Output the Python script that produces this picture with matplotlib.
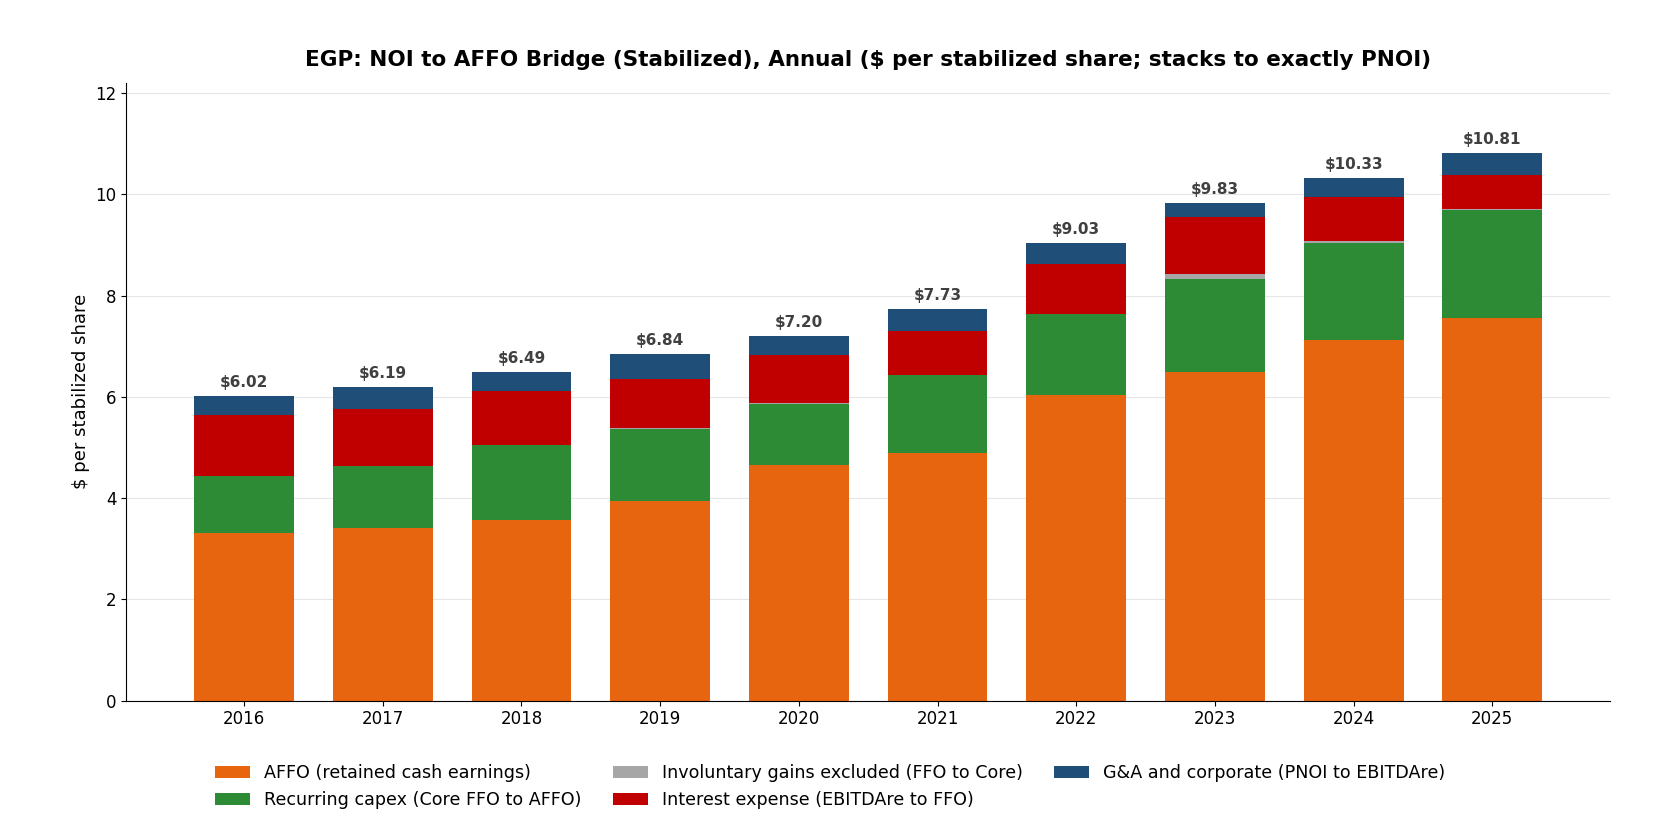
import matplotlib.pyplot as plt
import numpy as np

years = ["2016", "2017", "2018", "2019", "2020", "2021", "2022", "2023", "2024", "2025"]

affo = [3.30, 3.40, 3.56, 3.94, 4.66, 4.89, 6.04, 6.50, 7.12, 7.55]
capex = [1.13, 1.23, 1.49, 1.43, 1.20, 1.55, 1.59, 1.82, 1.92, 2.14]
gains = [0.00, 0.00, 0.00, 0.01, 0.01, 0.00, 0.00, 0.10, 0.04, 0.02]
interest = [1.21, 1.13, 1.07, 0.98, 0.95, 0.87, 0.99, 1.14, 0.86, 0.68]
gna = [0.38, 0.43, 0.37, 0.48, 0.38, 0.42, 0.41, 0.27, 0.39, 0.42]

labels = [
    "AFFO (retained cash earnings)",
    "Recurring capex (Core FFO to AFFO)",
    "Involuntary gains excluded (FFO to Core)",
    "Interest expense (EBITDAre to FFO)",
    "G&A and corporate (PNOI to EBITDAre)",
]
colors = ["#E8650F", "#2E8B35", "#A6A6A6", "#C00000", "#1F4E79"]

fig = plt.figure(figsize=(16.6, 8.3), dpi=100)
ax = fig.add_axes([0.076, 0.156, 0.894, 0.744])

x = np.arange(len(years))
bottom = np.zeros(len(years))
for vals, lab, col in zip([affo, capex, gains, interest, gna], labels, colors):
    ax.bar(x, vals, 0.72, bottom=bottom, color=col, label=lab, zorder=2)
    bottom += np.array(vals)

# total labels on top
for xi, tot in zip(x, bottom):
    ax.text(xi, tot + 0.12, f"${tot:.2f}", ha="center", va="bottom",
            fontsize=11, fontweight="bold", color="#404040")

ax.set_xticks(x)
ax.set_xticklabels(years, fontsize=12)
ax.tick_params(axis="y", labelsize=12)
ax.set_xlim(-0.85, 9.85)
ax.set_ylim(0, 12.2)
ax.set_ylabel("$ per stabilized share", fontsize=13)
ax.grid(axis="y", color="#e6e6e6", linewidth=0.8, zorder=0)
ax.spines["top"].set_visible(False)
ax.spines["right"].set_visible(False)

ax.set_title("EGP: NOI to AFFO Bridge (Stabilized), Annual ($ per stabilized share; stacks to exactly PNOI)",
             fontsize=15.5, fontweight="bold", pad=12)

handles, labs = ax.get_legend_handles_labels()
fig.legend(handles, labs, loc="upper center", bbox_to_anchor=(0.5, 0.098), ncol=3, frameon=False,
           fontsize=12.6, handlelength=2.0, columnspacing=1.8)

plt.savefig("out.png", dpi=100)
